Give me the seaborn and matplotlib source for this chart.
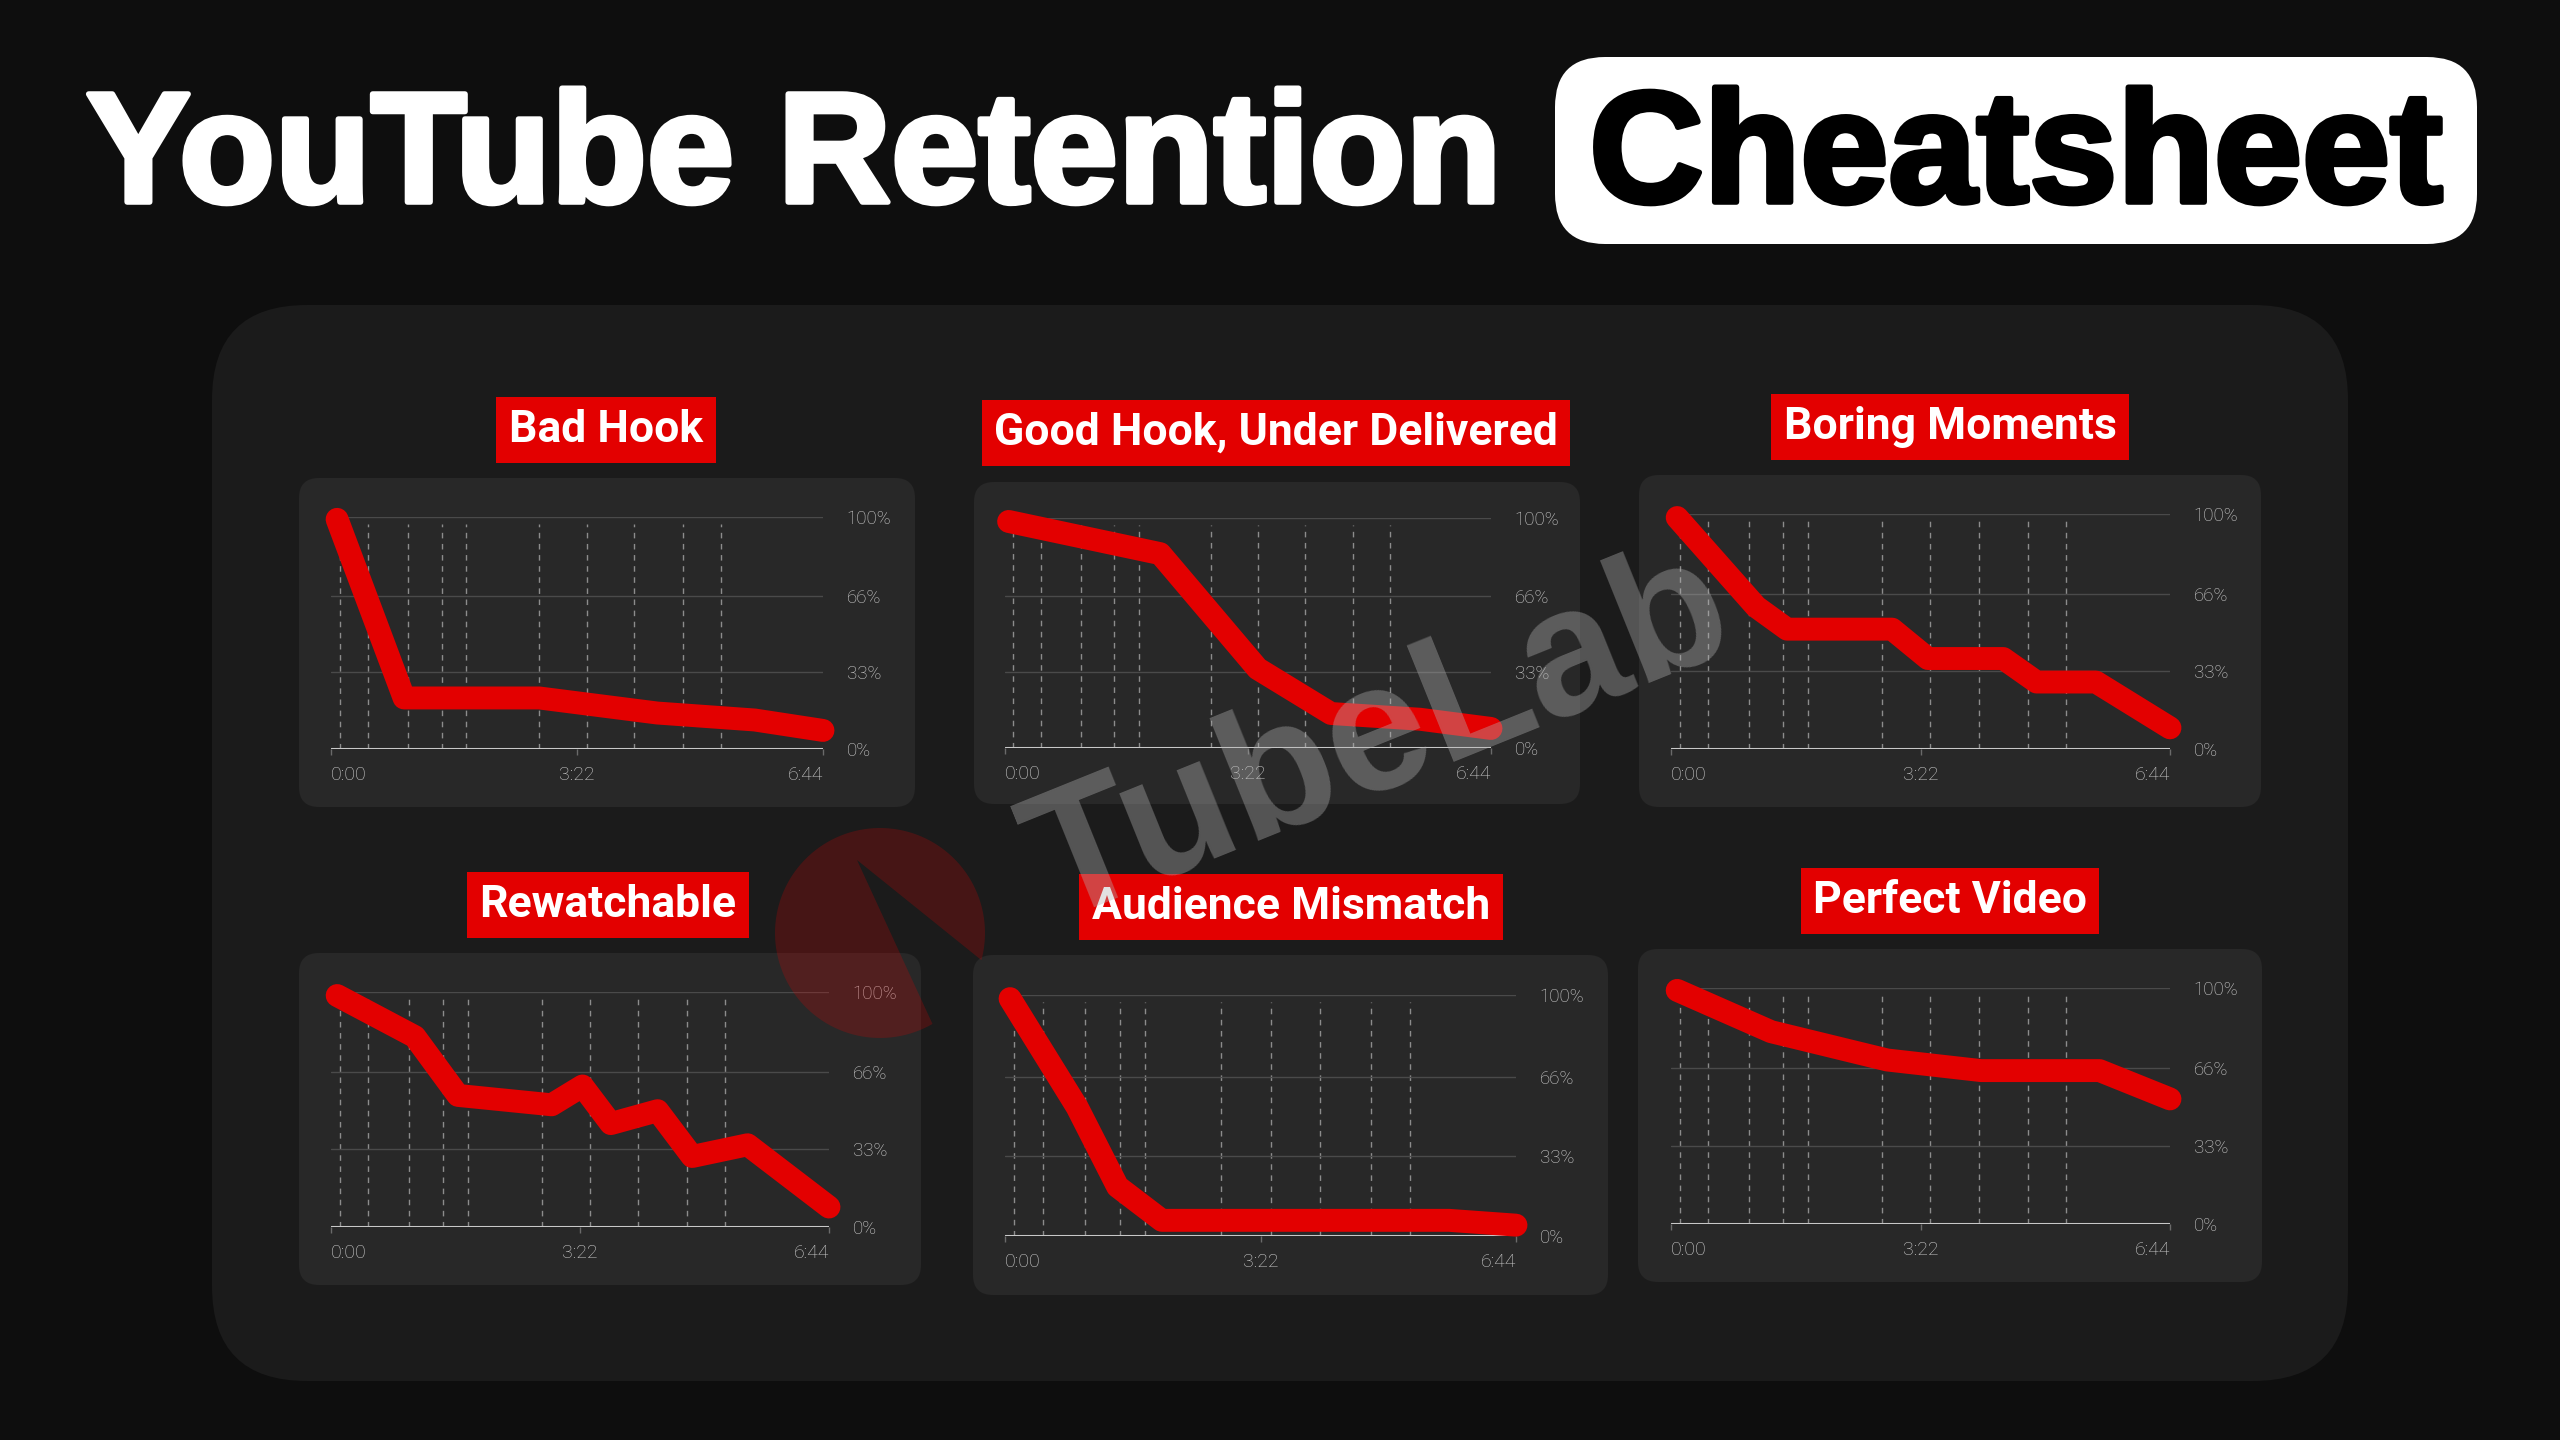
import matplotlib
matplotlib.use("Agg")
import matplotlib.pyplot as plt
import matplotlib.patheffects as pe
import numpy as np
import seaborn as sns
from matplotlib.patches import FancyBboxPatch, Polygon

# retention curves: time in seconds, retention in %
titles = ['Bad Hook', 'Good Hook, Under Delivered', 'Boring Moments',
          'Rewatchable', 'Audience Mismatch', 'Perfect Video']

bad_hook_t = [5, 60, 171, 268, 348, 404]
bad_hook_v = [99, 22, 22, 15.5, 12.5, 8]

good_hook_t = [3, 129, 210, 271, 345, 404]
good_hook_v = [98.5, 84.5, 34.5, 15, 12.5, 8.5]

boring_t = [5, 69, 94, 179, 208, 269, 296, 344, 404]
boring_v = [98.5, 60.5, 51, 51, 38.5, 38.5, 28.5, 28.5, 9]

rewatch_t = [5, 68, 103, 179, 204, 227, 265, 293, 338, 404]
rewatch_v = [98.5, 81, 56, 52, 60, 44, 49.5, 30, 35, 8.5]

mismatch_t = [4, 57, 89, 124, 351, 404]
mismatch_v = [98.5, 53.5, 20.5, 6.5, 6.5, 4.5]

perfect_t = [5, 81, 175, 251, 347, 404]
perfect_v = [99, 81.5, 69.5, 65, 65, 53]

# dashed chapter markers (seconds)
marker_times = [7, 30, 63, 91, 111, 171, 210, 249, 289, 320]

xtick_pos = [0, 202, 404]
xtick_labels = ['0:00', '3:22', '6:44']
ytick_pos = [0, 33, 66, 100]
ytick_labels = ['0%', '33%', '66%', '100%']

series = [(bad_hook_t, bad_hook_v), (good_hook_t, good_hook_v), (boring_t, boring_v),
          (rewatch_t, rewatch_v), (mismatch_t, mismatch_v), (perfect_t, perfect_v)]

# layout in pixels (x0, y0, x1, y1), y measured from the top
boxes = [(299, 478, 915, 807), (974, 482, 1580, 804), (1639, 475, 2261, 807),
         (299, 953, 921, 1285), (973, 955, 1608, 1295), (1638, 949, 2262, 1282)]
plot_areas = [(331, 517, 823, 749), (1005, 518, 1491, 748), (1671, 514, 2170, 749),
              (331, 992, 829, 1227), (1005, 995, 1516, 1236), (1671, 988, 2170, 1224)]
label_centers = [(606, 430), (1276, 433), (1950, 427),
                 (608, 905), (1291, 907), (1950, 901)]

W, H = 2560, 1440
RED = '#e30000'

sns.set_style('dark')
plt.rcParams['font.family'] = ['Roboto', 'DejaVu Sans']

fig = plt.figure(figsize=(25.6, 14.4), dpi=100)
fig.patch.set_facecolor('#0e0e0e')


def fig_rect(x0, y0, x1, y1):
    return [x0 / W, 1 - y1 / H, (x1 - x0) / W, (y1 - y0) / H]


# background layer in pixel coordinates
bg = fig.add_axes([0, 0, 1, 1])
bg.set_xlim(0, W)
bg.set_ylim(H, 0)
bg.axis('off')
bg.set_zorder(0)

bg.add_patch(FancyBboxPatch((212, 305), 2136, 1076, boxstyle='round,pad=0,rounding_size=95',
                            fc='#1b1b1b', ec='none'))

bg.text(86, 202, 'YouTube Retention', fontsize=113, fontweight='bold', color='white',
        family=['Liberation Sans', 'DejaVu Sans'], ha='left', va='baseline',
        path_effects=[pe.withStroke(linewidth=4, foreground='white')])
bg.add_patch(FancyBboxPatch((1555, 57), 922, 187, boxstyle='round,pad=0,rounding_size=50',
                            fc='white', ec='none'))
bg.text(2016, 202, 'Cheatsheet', fontsize=114, fontweight='bold', color='black',
        family=['Liberation Sans', 'DejaVu Sans'], ha='center', va='baseline',
        path_effects=[pe.withStroke(linewidth=4, foreground='black')])

for i in range(6):
    bx0, by0, bx1, by1 = boxes[i]
    bg.add_patch(FancyBboxPatch((bx0, by0), bx1 - bx0, by1 - by0,
                                boxstyle='round,pad=0,rounding_size=20',
                                fc='#282828', ec='none'))
    cx, cy = label_centers[i]
    bg.text(cx, cy, titles[i], fontsize=32, fontweight='bold', color='white',
            ha='center', va='center',
            bbox=dict(boxstyle='square,pad=0.28', fc=RED, ec='none'))

    ax = fig.add_axes(fig_rect(*plot_areas[i]))
    ax.set_zorder(2)
    ax.set_facecolor('none')
    for s in ax.spines.values():
        s.set_visible(False)
    ax.set_xlim(0, 404)
    ax.set_ylim(0, 100)

    ax.vlines(marker_times, 0, 97, colors='#8c8c8c', linestyles=(0, (4, 4)), linewidth=1.0)
    for yv in ytick_pos[1:]:
        ax.axhline(yv, color='#4a4a4a', linewidth=1.0)
    ax.axhline(0, color='#c8c8c8', linewidth=2.2)

    t, v = series[i]
    sns.lineplot(x=t, y=v, ax=ax, color=RED, linewidth=16.5, sort=False, estimator=None,
                 solid_capstyle='round', solid_joinstyle='round', clip_on=False, zorder=3)

    ax.set_xticks(xtick_pos, xtick_labels)
    for lab, ha in zip(ax.get_xticklabels(), ['left', 'center', 'right']):
        lab.set_ha(ha)
        lab.set_fontweight('light')
    ax.tick_params(axis='x', length=4, width=1, color='#6a6a6a', pad=8,
                   labelsize=14, labelcolor='#d0d0d0', bottom=True)

    ax.yaxis.tick_right()
    ax.set_yticks(ytick_pos, ytick_labels)
    for lab in ax.get_yticklabels():
        lab.set_fontweight('light')
    ax.tick_params(axis='y', length=0, pad=17, labelsize=13.5, labelcolor='#d0d0d0')
    ax.grid(False)
    ax.set_xlabel('')
    ax.set_ylabel('')

# overlay: faint logo and watermark
fg = fig.add_axes([0, 0, 1, 1])
fg.set_xlim(0, W)
fg.set_ylim(H, 0)
fg.axis('off')
fg.set_zorder(10)
fg.patch.set_alpha(0)

cx, cy, r = 880, 933, 105
ang = np.radians(np.linspace(-15, 300, 120))
pts = np.column_stack([cx + r * np.cos(ang), cy - r * np.sin(ang)])
pts = np.vstack([pts, [857, 860]])
fg.add_patch(Polygon(pts, closed=True, fc=RED, ec='none', alpha=0.22))

fg.text(1380, 740, 'TubeLab', fontsize=130, fontweight='bold', color='#b4b4b4', alpha=0.38,
        family=['Liberation Sans', 'DejaVu Sans'], rotation=22, rotation_mode='anchor',
        ha='center', va='center')

fig.savefig('out.png', dpi=100, facecolor=fig.get_facecolor())
